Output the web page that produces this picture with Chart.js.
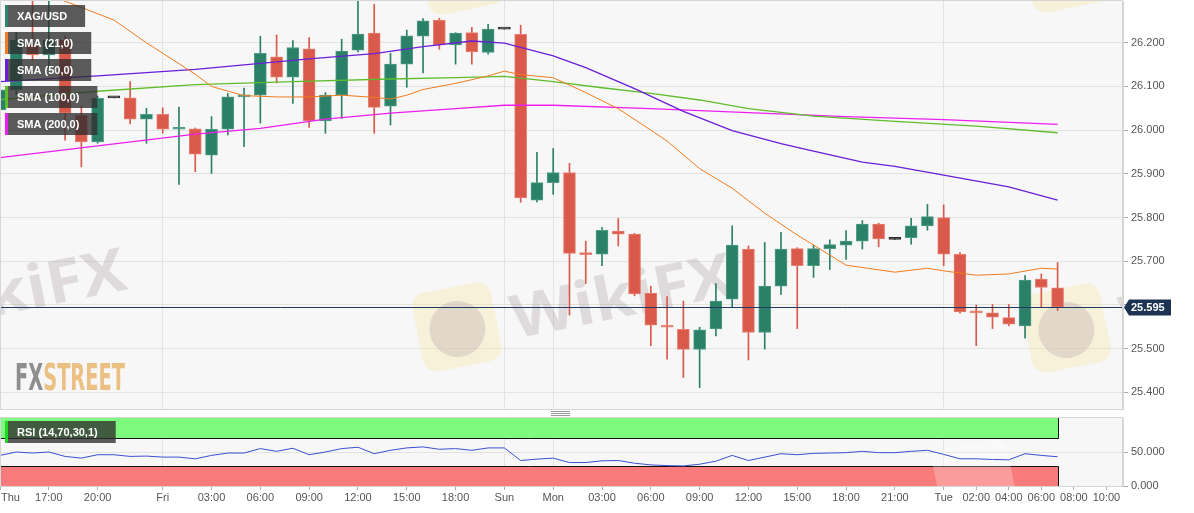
<!DOCTYPE html>
<html><head><meta charset="utf-8">
<script src="https://cdn.jsdelivr.net/npm/chart.js@4.4.1/dist/chart.umd.min.js"></script>
<style>
html,body{margin:0;padding:0;background:#fff;width:1194px;height:513px;overflow:hidden}
#main{position:absolute;left:0;top:0}
#rsi{position:absolute;left:0;top:410px}
</style></head><body>
<canvas id="main" width="1194" height="410" style="width:1194px;height:410px"></canvas>
<canvas id="rsi" width="1194" height="103" style="width:1194px;height:103px"></canvas>
<script>
// ---------- DATA ----------
const symbol = 'XAG/USD';
const smaNames = ['SMA (21,0)', 'SMA (50,0)', 'SMA (100,0)', 'SMA (200,0)'];
const rsiName = 'RSI (14,70,30,1)';

// hourly candles, index 0 = Thu 14:00 ... index 65 = Tue 07:00
const opens  = [26.046,26.092,26.195,26.172,26.206,26.034,25.973,26.074,26.074,26.025,
                26.036,26.002,26.003,25.943,26.002,26.076,26.080,26.168,26.121,26.186,
                26.021,26.080,26.183,26.222,26.055,26.151,26.215,26.252,26.195,26.223,
                26.178,26.231,26.219,25.840,25.880,25.903,25.717,25.716,25.769,25.762,
                25.627,25.552,25.544,25.498,25.545,25.613,25.728,25.537,25.643,25.729,
                25.690,25.729,25.737,25.746,25.785,25.750,25.754,25.781,25.800,25.716,
                25.585,25.582,25.571,25.552,25.659,25.639];
const highs  = [26.110,26.224,26.310,26.310,26.215,26.055,26.078,26.074,26.111,26.050,
                26.051,26.053,26.005,26.031,26.084,26.096,26.215,26.218,26.205,26.212,
                26.086,26.208,26.310,26.288,26.176,26.229,26.255,26.256,26.223,26.235,
                26.242,26.231,26.240,25.949,25.958,25.924,25.746,25.777,25.798,25.764,
                25.643,25.619,25.609,25.549,25.649,25.781,25.735,25.743,25.766,25.731,
                25.737,25.749,25.770,25.793,25.787,25.750,25.798,25.830,25.829,25.720,
                25.600,25.601,25.601,25.667,25.671,25.697];
const lows   = [25.982,26.080,26.160,26.142,25.977,25.916,25.970,26.074,26.014,25.970,
                25.993,25.876,25.905,25.901,25.989,25.962,26.016,26.108,26.061,26.006,
                25.993,26.027,26.179,25.993,26.012,26.098,26.131,26.185,26.151,26.151,
                26.174,26.231,25.835,25.836,25.853,25.577,25.649,25.690,25.735,25.621,
                25.507,25.476,25.434,25.411,25.529,25.596,25.474,25.499,25.624,25.546,
                25.663,25.681,25.704,25.728,25.733,25.750,25.739,25.771,25.690,25.581,
                25.507,25.546,25.552,25.524,25.596,25.587];
const closes = [26.092,26.206,26.172,26.206,26.039,25.973,26.073,26.074,26.025,26.036,
                26.002,26.003,25.945,26.002,26.076,26.078,26.176,26.121,26.189,26.021,
                26.080,26.181,26.220,26.052,26.151,26.216,26.250,26.195,26.222,26.179,
                26.231,26.231,25.845,25.880,25.903,25.718,25.715,25.771,25.762,25.625,
                25.554,25.549,25.498,25.543,25.609,25.737,25.537,25.643,25.728,25.690,
                25.729,25.738,25.746,25.785,25.751,25.750,25.781,25.802,25.716,25.584,
                25.582,25.572,25.556,25.657,25.640,25.595];

const sma21Idx = [0,4,7,9,12,13,15,17,19,21,23,24,25,26,28,30,31,32,34,36,38,40,41,43,45,47,49,52,55,57,58,60,62,64,65];
const sma21    = [26.36,26.295,26.252,26.2,26.128,26.1,26.079,26.076,26.076,26.08,26.075,26.071,26.08,26.093,26.107,26.124,26.135,26.127,26.12,26.086,26.049,26.0,25.975,25.912,25.867,25.81,25.76,25.691,25.675,25.684,25.678,25.668,25.671,25.684,25.682];
const sma50Idx = [0,6,12,16,19,23,26,29,31,34,36,39,42,45,48,50,53,55,58,62,65];
const sma50    = [26.111,26.124,26.139,26.153,26.163,26.175,26.191,26.204,26.199,26.17,26.143,26.095,26.043,25.999,25.969,25.952,25.927,25.917,25.897,25.87,25.84];
const sma100Idx = [0,6,12,18,24,28,31,34,37,40,43,46,50,55,60,65];
const sma100    = [26.07,26.089,26.104,26.111,26.117,26.12,26.123,26.111,26.097,26.084,26.069,26.049,26.032,26.02,26.009,25.994];
const sma200Idx = [0,6,12,16,20,24,28,31,34,40,46,52,58,65];
const sma200    = [25.937,25.964,25.991,26.004,26.025,26.039,26.049,26.057,26.057,26.049,26.04,26.031,26.024,26.013];

const rsi = [45,50,48.5,50,43.5,41,46,46,43.5,44,
             42.5,42.5,40,45,48.5,48.5,55,51,55.5,46,
             50,55,57,47.5,52.5,56,57.5,54,55,52.5,
             56,56,37.5,39.5,41,34.5,34.5,37,37.5,33.5,
             31,30,29.5,32,36.5,45,37.5,42.5,47.5,46,
             48,48.5,49,51,49,49,51,52.5,46.5,40,
             40,39,38.5,47.5,45,43];
const rsiUpper = 70, rsiLower = 30;

const tickIdx    = [0,3,6,10,13,16,19,22,25,28,31,34,37,40,43,46,49,52,55,58,60,62,64,66,68];
const tickLabels = ['Thu','17:00','20:00','Fri','03:00','06:00','09:00','12:00','15:00','18:00','Sun','Mon','03:00','06:00','09:00','12:00','15:00','18:00','21:00','Tue','02:00','04:00','06:00','08:00','10:00'];
const dayIdx = [10,31,34,58];
const priceTicks = [25.4,25.5,25.6,25.7,25.8,25.9,26.0,26.1,26.2];
const rsiTicks = [0,50];

// ---------- STYLE ----------
const FONT = "'Liberation Sans', Arial, sans-serif";
Chart.defaults.font.family = FONT;
Chart.defaults.font.size = 11;
Chart.defaults.color = '#555';
const X_MAX = 69.02, Y_MIN = 25.3619, Y_MAX = 26.2955;
const UP = '#2b8068', DOWN = '#d9594a', FLAT = '#2a2a2a';
const UP_B = '#4f9c86', DOWN_B = '#e98272';
const C21 = '#f27c1e', C50 = '#6a1ed8', C100 = '#5fbd2c', C200 = '#ee1fee';
const GRID = '#e3e3e3', PLOT_BG = '#f7f7f7';

function isFlat(i){ return opens[i] === closes[i] && highs[i] === lows[i]; }
function cColor(i){ if (isFlat(i)) return FLAT; return closes[i] >= opens[i] ? UP : DOWN; }
function cBorder(i){ if (isFlat(i)) return FLAT; return closes[i] >= opens[i] ? UP_B : DOWN_B; }
const idxs = opens.map((_, i) => i);
const pts = (xs, ys) => xs.map((x, k) => ({x, y: ys[k]}));

function watermark(ctx, cx, cy){
  ctx.save();
  ctx.translate(cx, cy);
  ctx.rotate(-0.2);
  ctx.fillStyle = 'rgba(250,232,170,0.38)';
  ctx.beginPath(); ctx.roundRect(-40, -40, 80, 80, 14); ctx.fill();
  ctx.fillStyle = 'rgba(175,160,166,0.30)';
  ctx.beginPath(); ctx.arc(0, 2, 28, 0, Math.PI*2); ctx.fill();
  ctx.fillStyle = 'rgba(170,155,160,0.30)';
  ctx.font = "bold 60px 'Open Sans', 'DejaVu Sans', sans-serif";
  ctx.textBaseline = 'middle';
  const w = ctx.measureText('WikiFX').width;
  ctx.translate(55, 6);
  ctx.scale(225 / w, 1);
  ctx.fillText('WikiFX', 0, 0);
  ctx.restore();
}

function legendBox(ctx, x, y, h, color, text){
  ctx.save();
  ctx.font = 'bold 11px ' + FONT;
  const w = ctx.measureText(text).width + 30;
  ctx.fillStyle = 'rgba(46,46,46,0.78)';
  ctx.fillRect(x, y, w, h);
  ctx.fillStyle = color;
  ctx.fillRect(x, y, 3, h);
  ctx.fillStyle = '#ffffff';
  ctx.textBaseline = 'middle';
  ctx.fillText(text, x + 12, y + h / 2 + 0.5);
  ctx.restore();
}

const mainPlugin = {
  id: 'mainDeco',
  beforeDraw(chart){
    const {ctx, chartArea: a} = chart;
    ctx.save();
    ctx.fillStyle = '#fff'; ctx.fillRect(0, 0, chart.width, chart.height);
    ctx.fillStyle = PLOT_BG; ctx.fillRect(a.left, a.top, a.right - a.left, a.bottom - a.top);
    ctx.restore();
  },
  beforeDatasetsDraw(chart){
    const {ctx, chartArea: a} = chart;
    ctx.save();
    ctx.beginPath(); ctx.rect(a.left, a.top, a.right - a.left, a.bottom - a.top); ctx.clip();
    watermark(ctx, 457, 327);
    watermark(ctx, 1066, 328);
    watermark(ctx, -150, 322);
    watermark(ctx, 462, -30);
    watermark(ctx, 1066, -32);
    // FXSTREET logo
    ctx.font = "bold 38px 'Liberation Sans Narrow', 'DejaVu Sans Condensed', 'Liberation Sans', sans-serif";
    ctx.textBaseline = 'alphabetic';
    const w1 = ctx.measureText('FX').width, w2 = ctx.measureText('STREET').width;
    ctx.translate(15, 390);
    ctx.scale(110 / (w1 + w2), 1);
    ctx.fillStyle = '#8e8e8e'; ctx.fillText('FX', 0, 0);
    ctx.fillStyle = '#ecbf82'; ctx.fillText('STREET', w1, 0);
    ctx.restore();
  },
  afterDatasetsDraw(chart){
    const {ctx, chartArea: a, scales: {y}} = chart;
    const py = Math.round(y.getPixelForValue(closes[closes.length - 1])) + 0.5;
    ctx.save();
    ctx.strokeStyle = '#1f3a60'; ctx.lineWidth = 1;
    ctx.beginPath(); ctx.moveTo(a.left, py); ctx.lineTo(a.right, py); ctx.stroke();
    ctx.restore();
  },
  afterDraw(chart){
    const {ctx, chartArea: a, scales: {y}} = chart;
    ctx.save();
    ctx.strokeStyle = '#d6d6d6'; ctx.lineWidth = 1;
    ctx.strokeRect(a.left + 0.5, a.top - 0.5, a.right - a.left - 1, a.bottom - a.top + 1);
    ctx.restore();
    legendBox(ctx, 5, 5, 22, '#2e8470', symbol);
    const cols = [C21, C50, C100, C200];
    smaNames.forEach((n, k) => legendBox(ctx, 5, 32 + 27 * k, 22, cols[k], n));
    // price label
    const last = closes[closes.length - 1];
    const py = Math.round(y.getPixelForValue(last)) + 0.5;
    ctx.save();
    ctx.fillStyle = '#1c3352';
    ctx.beginPath();
    ctx.moveTo(a.right + 1, py);
    ctx.lineTo(a.right + 6, py - 8);
    ctx.lineTo(a.right + 48, py - 8);
    ctx.lineTo(a.right + 48, py + 8);
    ctx.lineTo(a.right + 6, py + 8);
    ctx.closePath(); ctx.fill();
    ctx.fillStyle = '#fff';
    ctx.font = 'bold 11px ' + FONT;
    ctx.textBaseline = 'middle'; ctx.textAlign = 'left';
    ctx.fillText(last.toFixed(3), a.right + 8, py + 0.5);
    ctx.restore();
  }
};

new Chart(document.getElementById('main'), {
  type: 'bar',
  data: {
    datasets: [
      {type:'line', data: pts(sma21Idx, sma21), borderColor: C21, borderWidth: 1, pointRadius: 0, order: 0},
      {type:'line', data: pts(sma50Idx, sma50), borderColor: C50, borderWidth: 1.3, pointRadius: 0, order: 0},
      {type:'line', data: pts(sma100Idx, sma100), borderColor: C100, borderWidth: 1.3, pointRadius: 0, order: 0},
      {type:'line', data: pts(sma200Idx, sma200), borderColor: C200, borderWidth: 1.3, pointRadius: 0, order: 0},
      {type:'bar', data: idxs.map(i => ({x: i, y: [opens[i], closes[i]]})),
        backgroundColor: c => cColor(c.dataIndex), borderColor: c => cBorder(c.dataIndex),
        borderWidth: 1, borderSkipped: false, barThickness: 12, minBarLength: 2, grouped: false, order: 1},
      {type:'bar', data: idxs.map(i => ({x: i, y: [lows[i], highs[i]]})),
        backgroundColor: c => cColor(c.dataIndex), borderWidth: 0,
        barThickness: 1, grouped: false, order: 2}
    ]
  },
  options: {
    responsive: false, animation: false, events: [],
    layout: {padding: {top: 1, bottom: 1, left: 0, right: 0}},
    plugins: {legend: {display: false}, tooltip: {enabled: false}},
    scales: {
      x: {type: 'linear', min: 0, max: X_MAX, offset: false,
          grid: {offset: false, color: GRID, drawTicks: false}, border: {display: false},
          ticks: {display: false},
          afterBuildTicks: s => { s.ticks = dayIdx.map(v => ({value: v})); },
          afterFit: s => { s.height = 0; s.paddingLeft = 0; s.paddingRight = 0; }},
      y: {position: 'right', min: Y_MIN, max: Y_MAX,
          afterBuildTicks: s => { s.ticks = priceTicks.map(v => ({value: v})); },
          ticks: {callback: v => Number(v).toFixed(3), padding: 3, color: '#555', font: {size: 11}},
          grid: {color: GRID, tickColor: '#aaa', tickLength: 5},
          border: {color: '#d6d6d6'},
          afterFit: s => { s.width = 71; s.paddingTop = 0; s.paddingBottom = 0; }}
    }
  },
  plugins: [mainPlugin]
});

const rsiPlugin = {
  id: 'rsiDeco',
  beforeDraw(chart){
    const {ctx, chartArea: a} = chart;
    ctx.save();
    ctx.fillStyle = '#fff'; ctx.fillRect(0, 0, chart.width, chart.height);
    ctx.fillStyle = PLOT_BG; ctx.fillRect(a.left, a.top, a.right - a.left, a.bottom - a.top);
    ctx.strokeStyle = '#9a9a9a'; ctx.lineWidth = 1;
    for (let k = 0; k < 3; k++){ ctx.beginPath(); ctx.moveTo(551, 1.5 + 2 * k); ctx.lineTo(570, 1.5 + 2 * k); ctx.stroke(); }
    ctx.restore();
  },
  beforeDatasetsDraw(chart){
    const {ctx, chartArea: a, scales: {x, y}} = chart;
    const x0 = a.left, x1 = Math.round(x.getPixelForValue(idxs[idxs.length - 1])) + 0.5;
    const yTop = y.getPixelForValue(100), yU = Math.round(y.getPixelForValue(rsiUpper)) + 0.5;
    const yL = Math.round(y.getPixelForValue(rsiLower)) + 0.5, yB = y.getPixelForValue(0);
    ctx.save();
    ctx.fillStyle = '#7efb7e'; ctx.fillRect(x0, yTop, x1 - x0, yU - yTop);
    ctx.fillStyle = '#f97b7b'; ctx.fillRect(x0, yL, x1 - x0, yB - yL);
    ctx.strokeStyle = '#111'; ctx.lineWidth = 1;
    ctx.beginPath();
    ctx.moveTo(x0 + 0.5, yTop); ctx.lineTo(x0 + 0.5, yU); ctx.lineTo(x1, yU); ctx.lineTo(x1, yTop);
    ctx.moveTo(x0 + 0.5, yB); ctx.lineTo(x0 + 0.5, yL); ctx.lineTo(x1, yL); ctx.lineTo(x1, yB);
    ctx.stroke();
    // faint watermark
    ctx.beginPath(); ctx.rect(a.left, a.top, a.right - a.left, a.bottom - a.top); ctx.clip();
    ctx.translate(975, 72); ctx.rotate(-0.2);
    ctx.fillStyle = 'rgba(255,255,255,0.25)';
    ctx.beginPath(); ctx.roundRect(-38, -38, 76, 76, 13); ctx.fill();
    ctx.restore();
  },
  afterDraw(chart){
    const {ctx, chartArea: a} = chart;
    ctx.save();
    ctx.strokeStyle = '#d6d6d6'; ctx.lineWidth = 1;
    ctx.strokeRect(a.left + 0.5, a.top - 0.5, a.right - a.left - 1, a.bottom - a.top + 1);
    ctx.restore();
    legendBox(ctx, 5, a.top + 3, 22, '#22d622', rsiName);
    ctx.save();
    ctx.fillStyle = '#555'; ctx.font = '11px ' + FONT;
    ctx.textBaseline = 'middle'; ctx.textAlign = 'left';
    ctx.fillText(tickLabels[0], 1, a.bottom + 11.5);
    ctx.restore();
  }
};

new Chart(document.getElementById('rsi'), {
  type: 'line',
  data: {datasets: [{data: idxs.map(i => ({x: i, y: rsi[i]})), borderColor: '#3b4fd3', borderWidth: 1, pointRadius: 0}]},
  options: {
    responsive: false, animation: false, events: [],
    layout: {padding: {top: 8, bottom: 0, left: 0, right: 0}},
    plugins: {legend: {display: false}, tooltip: {enabled: false}},
    scales: {
      x: {type: 'linear', min: 0, max: X_MAX, offset: false,
          afterBuildTicks: s => { s.ticks = tickIdx.map(v => ({value: v})); },
          ticks: {autoSkip: false, maxRotation: 0, padding: 1, color: '#555', font: {size: 11},
                  callback: (v, i) => i === 0 ? '' : tickLabels[i]},
          grid: {offset: false, color: c => (c.tick && dayIdx.includes(c.tick.value)) ? GRID : 'rgba(0,0,0,0)',
                 tickColor: '#b0b0b0', tickLength: 4},
          border: {color: '#d6d6d6'},
          afterFit: s => { s.height = 27; s.paddingLeft = 0; s.paddingRight = 0; }},
      y: {position: 'right', min: 0, max: 100,
          afterBuildTicks: s => { s.ticks = rsiTicks.map(v => ({value: v})); },
          ticks: {callback: v => Number(v).toFixed(3), padding: 3, color: '#555', font: {size: 11}},
          grid: {color: GRID, tickColor: '#aaa', tickLength: 5},
          border: {color: '#d6d6d6'},
          afterFit: s => { s.width = 71; s.paddingTop = 0; s.paddingBottom = 0; }}
    }
  },
  plugins: [rsiPlugin]
});
</script></body></html>
